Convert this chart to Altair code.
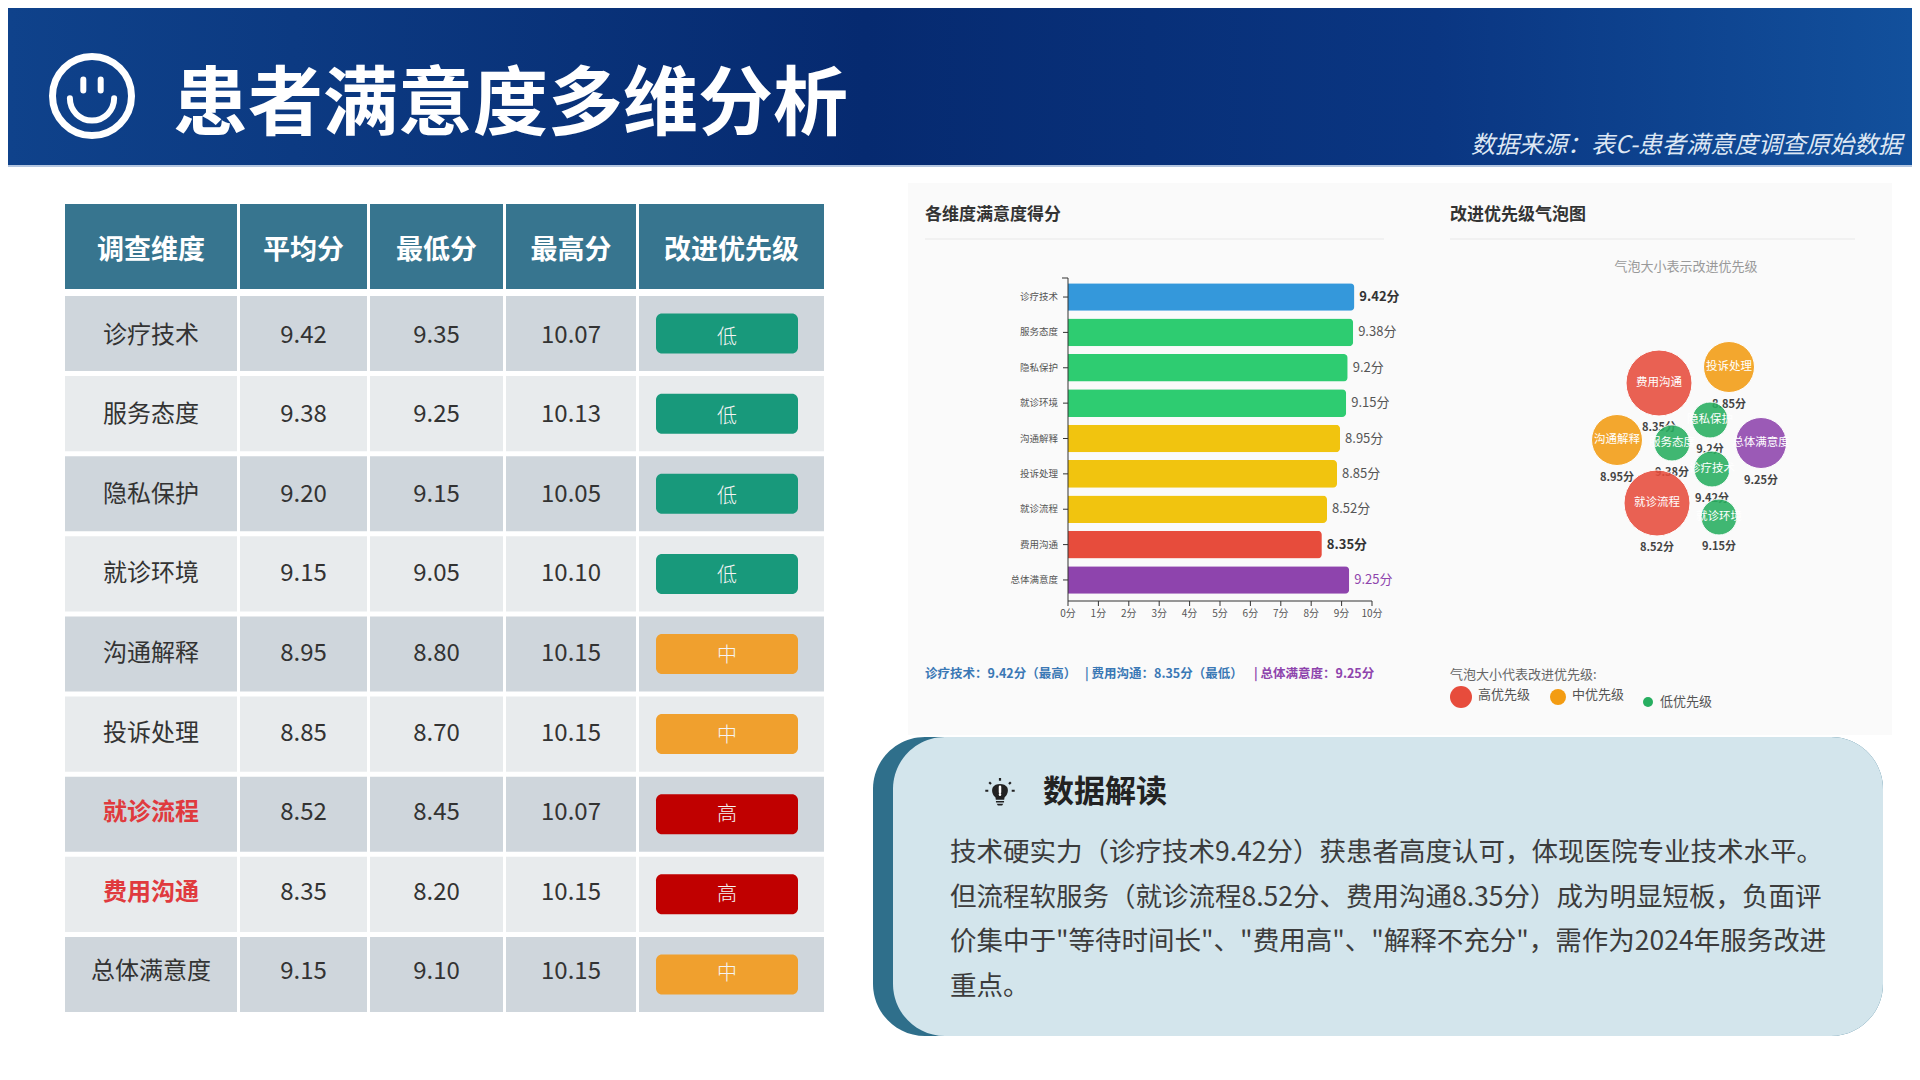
import altair as alt
import pandas as pd

# ---------------- data ----------------
dims = ["诊疗技术", "服务态度", "隐私保护", "就诊环境", "沟通解释", "投诉处理", "就诊流程", "费用沟通", "总体满意度"]
avg_score = [9.42, 9.38, 9.20, 9.15, 8.95, 8.85, 8.52, 8.35, 9.15]
min_score = [9.35, 9.25, 9.15, 9.05, 8.80, 8.70, 8.45, 8.20, 9.10]
max_score = [10.07, 10.13, 10.05, 10.10, 10.15, 10.15, 10.07, 10.15, 10.15]
priority = ["低", "低", "低", "低", "中", "中", "高", "高", "中"]
headers = ["调查维度", "平均分", "最低分", "最高分", "改进优先级"]
red_dims = ["就诊流程", "费用沟通"]

bar_score = [9.42, 9.38, 9.2, 9.15, 8.95, 8.85, 8.52, 8.35, 9.25]
bar_group = ["top", "good", "good", "good", "mid", "mid", "mid", "low", "overall"]
x_ticks = [0, 1, 2, 3, 4, 5, 6, 7, 8, 9, 10]

bubble_names = ["费用沟通", "投诉处理", "隐私保护", "沟通解释", "服务态度", "总体满意度", "诊疗技术", "就诊流程", "就诊环境"]
bubble_score = [8.35, 8.85, 9.2, 8.95, 9.38, 9.25, 9.42, 8.52, 9.15]
bubble_priority = ["高", "中", "低", "中", "低", "中", "低", "高", "低"]
bubble_kind = ["高", "中", "低", "中", "低", "总体", "低", "高", "低"]

legend_names = ["高优先级", "中优先级", "低优先级"]
legend_kind = ["高", "中", "低"]

note_lines = [
    "技术硬实力（诊疗技术9.42分）获患者高度认可，体现医院专业技术水平。",
    "但流程软服务（就诊流程8.52分、费用沟通8.35分）成为明显短板，负面评",
    "价集中于\"等待时间长\"、\"费用高\"、\"解释不充分\"，需作为2024年服务改进",
    "重点。",
]

# ---------------- layout (page pixels) ----------------
W, H, OFF = 1904, 1064, 8
FONT = "Noto Sans CJK SC"

col_x0 = [65, 240, 370, 506, 639]
col_x1 = [237, 367, 503, 636, 824]
col_mid = [(a + b) / 2 for a, b in zip(col_x0, col_x1)]

# packed bubble layout
bubble_x = [1659, 1729, 1710, 1617, 1672, 1761, 1712, 1657, 1719]
bubble_y = [383, 367, 420, 440, 443, 443, 469, 503, 517]
bubble_r = {"高": 33, "中": 25.5, "低": 18}
legend_r = {"高": 11, "中": 8, "低": 5}

legend_dot_x = [1461, 1558, 1648]
legend_dot_y = [697, 697, 702]
legend_txt_x = [1478, 1572, 1660]
legend_txt_y = [695, 695, 702]


def sx():
    return alt.Scale(domain=[OFF, OFF + W], range=[0, W])


def sy():
    return alt.Scale(domain=[OFF, OFF + H], range=[0, H])


def page(a, b):
    return [a - OFF, b - OFF]


def X(f="x"):
    return alt.X(f"{f}:Q", scale=sx(), axis=None)


def Y(f="y"):
    return alt.Y(f"{f}:Q", scale=sy(), axis=None)


def box(x0, x1, y0, y1, color, **kw):
    df = pd.DataFrame({"x": [x0], "x1": [x1], "y": [y0], "y1": [y1]})
    return alt.Chart(df).mark_rect(color=color, **kw).encode(
        x=X(), x2="x1:Q", y=Y(), y2="y1:Q")


def hline(x0, x1, y, color, w=1):
    df = pd.DataFrame({"x": [x0], "x1": [x1], "y": [y]})
    return alt.Chart(df).mark_rule(color=color, strokeWidth=w).encode(
        x=X(), x2="x1:Q", y=Y())


def texts(rows, **kw):
    df = pd.DataFrame(rows, columns=["x", "y", "t"])
    style = {"font": FONT, "baseline": "middle", "align": "left"}
    style.update(kw)
    return alt.Chart(df).mark_text(**style).encode(x=X(), y=Y(), text="t:N")


layers = []

# ---------------- header ----------------
header_grad = {
    "gradient": "linear", "x1": 0, "x2": 1, "y1": 0, "y2": 0,
    "stops": [
        {"offset": 0, "color": "#0f428b"},
        {"offset": 0.45, "color": "#062a70"},
        {"offset": 0.75, "color": "#0a3682"},
        {"offset": 1, "color": "#12509c"},
    ],
}
layers.append(box(OFF, OFF + W, OFF, 166, header_grad))
layers.append(hline(OFF, OFF + W, 166, "#b4c6e0", 2))

face = pd.DataFrame({"x": [92], "y": [96]})
layers.append(alt.Chart(face).mark_point(
    shape="circle", size=79 ** 2, filled=False, stroke="white", strokeWidth=7, opacity=1
).encode(x=X(), y=Y()))
layers.append(alt.Chart(face).mark_point(
    shape="M-0.22,-0.42L-0.22,-0.14M0.22,-0.42L0.22,-0.14M-0.56,0.06A0.56,0.56 0 0 0 0.56,0.06",
    size=79 ** 2, filled=False, stroke="white", strokeWidth=6, strokeCap="round", opacity=1
).encode(x=X(), y=Y()))

layers.append(texts([(173, 106, "患者满意度多维分析")], fontSize=75, fontWeight="bold", color="white"))
layers.append(texts([(1902, 146, "数据来源：表C-患者满意度调查原始数据")], fontSize=24,
                    fontStyle="italic", color="#dde7f4", align="right"))

# ---------------- table ----------------
head_df = pd.DataFrame({"x": col_x0, "x1": col_x1, "t": headers,
                        "xm": col_mid, "y": 204, "y1": 289, "ym": 251})
layers.append(alt.Chart(head_df).mark_rect(color="#37758f").encode(
    x=X(), x2="x1:Q", y=Y(), y2="y1:Q"))
layers.append(alt.Chart(head_df).mark_text(
    font=FONT, fontSize=27, fontWeight="bold", color="white", baseline="middle"
).encode(x=X("xm"), y=Y("ym"), text="t:N"))

row_scale = alt.Scale(domain=dims, range=page(296, 1012), paddingInner=0.0625, paddingOuter=0)

cells = []
for i, d in enumerate(dims):
    for j in range(5):
        cells.append({"dim": d, "x": col_x0[j], "x1": col_x1[j],
                      "shade": "dark" if i % 2 == 0 else "light"})
layers.append(alt.Chart(pd.DataFrame(cells)).mark_rect().encode(
    x=X(), x2="x1:Q",
    y=alt.Y("dim:N", scale=row_scale, axis=None),
    color=alt.Color("shade:N", scale=alt.Scale(domain=["dark", "light"],
                                              range=["#cfd6dc", "#e8ebed"]), legend=None)))

cell_text = []
for i, d in enumerate(dims):
    cell_text.append({"dim": d, "x": col_mid[0], "t": d, "red": d in red_dims})
    for j, v in enumerate([avg_score[i], min_score[i], max_score[i]]):
        cell_text.append({"dim": d, "x": col_mid[j + 1], "t": f"{v:.2f}", "red": False})
ct = pd.DataFrame(cell_text)
layers.append(alt.Chart(ct[~ct.red]).mark_text(
    font=FONT, fontSize=24, color="#333333", baseline="middle"
).encode(x=X(), y=alt.Y("dim:N", scale=row_scale, axis=None), text="t:N"))
layers.append(alt.Chart(ct[ct.red]).mark_text(
    font=FONT, fontSize=24, fontWeight="bold", color="#e03a3e", baseline="middle"
).encode(x=X(), y=alt.Y("dim:N", scale=row_scale, axis=None), text="t:N"))

badge_df = pd.DataFrame({"dim": dims, "p": priority, "x": 656, "x1": 798, "xm": 727})
layers.append(alt.Chart(badge_df).mark_bar(size=40, cornerRadius=6).encode(
    x=X(), x2="x1:Q",
    y=alt.Y("dim:N", scale=row_scale, axis=None),
    color=alt.Color("p:N", scale=alt.Scale(domain=["高", "中", "低"],
                                           range=["#c00000", "#f0a02e", "#18997b"]), legend=None)))
layers.append(alt.Chart(badge_df).mark_text(
    font=FONT, fontSize=20, fontWeight=300, color="#f4f4f4", baseline="middle", dy=2
).encode(x=X("xm"), y=alt.Y("dim:N", scale=row_scale, axis=None), text="p:N"))

# ---------------- chart card ----------------
layers.append(box(908, 1892, 183, 735, "#fafafa"))
layers.append(texts([(925, 215, "各维度满意度得分")], fontSize=17, fontWeight="bold", color="#333333"))
layers.append(hline(925, 1384, 239, "#e8e8e8"))
layers.append(texts([(1450, 215, "改进优先级气泡图")], fontSize=17, fontWeight="bold", color="#333333"))
layers.append(hline(1450, 1855, 239, "#e8e8e8"))

# ---------------- bar chart ----------------
bx = alt.Scale(domain=[0, 10], range=page(1068, 1372))
by = alt.Scale(domain=dims, range=page(279, 598), paddingInner=0.22, paddingOuter=0.12)
bar_df = pd.DataFrame({"dim": dims, "score": bar_score, "group": bar_group,
                       "label": [f"{v:g}分" for v in bar_score]})
layers.append(alt.Chart(bar_df).mark_bar(cornerRadiusEnd=4).encode(
    x=alt.X("score:Q", scale=bx, axis=None),
    y=alt.Y("dim:N", scale=by, axis=None),
    color=alt.Color("group:N", scale=alt.Scale(
        domain=["top", "good", "mid", "low", "overall"],
        range=["#3498db", "#2ecc71", "#f1c40f", "#e74c3c", "#8e44ad"]), legend=None)))

lab_style = [
    (["top", "low"], {"fontWeight": "bold", "color": "#333333"}),
    (["good", "mid"], {"color": "#555555"}),
    (["overall"], {"color": "#8e44ad"}),
]
for groups, st in lab_style:
    layers.append(alt.Chart(bar_df[bar_df.group.isin(groups)]).mark_text(
        font=FONT, fontSize=13, align="left", baseline="middle", dx=5, **st
    ).encode(x=alt.X("score:Q", scale=bx, axis=None),
             y=alt.Y("dim:N", scale=by, axis=None), text="label:N"))

# axes
zero_df = pd.DataFrame({"v": [0], "v2": [10]})
layers.append(alt.Chart(zero_df).mark_rule(color="#333333").encode(
    x=alt.X("v:Q", scale=bx, axis=None), y=alt.value(278 - OFF), y2=alt.value(601 - OFF)))
layers.append(alt.Chart(zero_df).mark_rule(color="#333333").encode(
    x=alt.X("v:Q", scale=bx, axis=None), x2="v2:Q", y=alt.value(601 - OFF)))
layers.append(hline(1062, 1068, 278, "#333333"))
layers.append(alt.Chart(bar_df).mark_rule(color="#333333").encode(
    x=alt.value(1063 - OFF), x2=alt.value(1068 - OFF),
    y=alt.Y("dim:N", scale=by, axis=None)))
layers.append(alt.Chart(bar_df).mark_text(
    font=FONT, fontSize=9.5, color="#555555", align="right", baseline="middle"
).encode(x=alt.value(1058 - OFF), y=alt.Y("dim:N", scale=by, axis=None), text="dim:N"))

tick_df = pd.DataFrame({"v": x_ticks})
layers.append(alt.Chart(tick_df).mark_rule(color="#333333").encode(
    x=alt.X("v:Q", scale=bx, axis=None), y=alt.value(601 - OFF), y2=alt.value(606 - OFF)))
layers.append(alt.Chart(tick_df).transform_calculate(t="datum.v + '分'").mark_text(
    font=FONT, fontSize=10, color="#555555", baseline="middle"
).encode(x=alt.X("v:Q", scale=bx, axis=None), y=alt.value(614 - OFF), text="t:N"))

layers.append(texts([(925, 674, "诊疗技术：9.42分（最高）"),
                     (1085, 674, "| 费用沟通：8.35分（最低）")],
                    fontSize=12.5, fontWeight="bold", color="#3a78b5"))
layers.append(texts([(1254, 674, "| 总体满意度：9.25分")],
                    fontSize=12.5, fontWeight="bold", color="#8e44ad"))

# ---------------- bubble chart ----------------
layers.append(texts([(1686, 267, "气泡大小表示改进优先级")], fontSize=13, color="#999999", align="center"))

bub_df = pd.DataFrame({"name": bubble_names, "score": bubble_score, "p": bubble_priority,
                       "kind": bubble_kind, "x": bubble_x, "y": bubble_y})
bub_df["sz"] = [(2 * bubble_r[p]) ** 2 for p in bubble_priority]
bub_df["ly"] = [y + bubble_r[p] + 12 for y, p in zip(bubble_y, bubble_priority)]
bub_df["label"] = [f"{v:g}分" for v in bubble_score]

layers.append(alt.Chart(bub_df).mark_text(
    font=FONT, fontSize=11, fontWeight="bold", color="#444444", baseline="middle"
).encode(x=X(), y=Y("ly"), text="label:N"))
layers.append(alt.Chart(bub_df).mark_circle(opacity=0.88, stroke="white", strokeWidth=1).encode(
    x=X(), y=Y(),
    size=alt.Size("sz:Q", scale=None, legend=None),
    color=alt.Color("kind:N", scale=alt.Scale(domain=["高", "中", "低", "总体"],
                                              range=["#e74c3c", "#f39c12", "#27ae60", "#8e44ad"]),
                    legend=None)))
layers.append(alt.Chart(bub_df).mark_text(
    font=FONT, fontSize=11.5, color="white", baseline="middle"
).encode(x=X(), y=Y(), text="name:N"))

# legend
layers.append(texts([(1450, 675, "气泡大小代表改进优先级:")], fontSize=13, color="#666666"))
leg_df = pd.DataFrame({"name": legend_names, "kind": legend_kind,
                       "x": legend_dot_x, "y": legend_dot_y,
                       "tx": legend_txt_x, "ty": legend_txt_y})
leg_df["sz"] = [(2 * legend_r[k]) ** 2 for k in legend_kind]
layers.append(alt.Chart(leg_df).mark_circle(opacity=1).encode(
    x=X(), y=Y(),
    size=alt.Size("sz:Q", scale=None, legend=None),
    color=alt.Color("kind:N", scale=alt.Scale(domain=["高", "中", "低"],
                                              range=["#e74c3c", "#f39c12", "#27ae60"]), legend=None)))
layers.append(alt.Chart(leg_df).mark_text(
    font=FONT, fontSize=13, color="#555555", align="left", baseline="middle"
).encode(x=X("tx"), y=Y("ty"), text="name:N"))

# ---------------- note box ----------------
layers.append(box(873, 1883, 737, 1036, "#2f6f8b", cornerRadius=52))
layers.append(box(893, 1883, 737, 1036, "#d3e5ec", cornerRadius=52))

bulb = pd.DataFrame({"x": [1000], "y": [793]})
layers.append(alt.Chart(bulb).mark_point(
    shape=("M-0.3,0.3C-0.52,0.12 -0.58,-0.18 -0.48,-0.38C-0.33,-0.68 0.33,-0.68 0.48,-0.38"
           "C0.58,-0.18 0.52,0.12 0.3,0.3L0.28,0.45L-0.28,0.45Z"
           "M-0.27,0.53L0.27,0.53L0.27,0.63L-0.27,0.63Z"
           "M-0.22,0.71L0.22,0.71L0.14,0.84L-0.14,0.84Z"),
    size=30 ** 2, filled=True, color="#222222", opacity=1
).encode(x=X(), y=Y()))
layers.append(alt.Chart(bulb).mark_point(
    shape=("M0,-1L0,-0.82M-0.72,-0.72L-0.6,-0.6M0.72,-0.72L0.6,-0.6"
           "M-0.98,-0.15L-0.78,-0.15M0.98,-0.15L0.78,-0.15"),
    size=30 ** 2, filled=False, stroke="#222222", strokeWidth=2.2, opacity=1
).encode(x=X(), y=Y()))
layers.append(alt.Chart(bulb).mark_point(
    shape="M0,-0.42L0,-0.05M0,0.08L0,0.12",
    size=30 ** 2, filled=False, stroke="white", strokeWidth=2.5, strokeCap="round", opacity=1
).encode(x=X(), y=Y()))

layers.append(texts([(1043, 793, "数据解读")], fontSize=31, fontWeight="bold", color="#222222"))

note_y = [853, 898, 942, 987]
layers.append(texts([(950, y, t) for y, t in zip(note_y, note_lines)],
                    fontSize=26.5, color="#3c3c3c"))

chart = alt.layer(*layers).resolve_scale(
    x="independent", y="independent", color="independent", size="independent"
).properties(
    width=W, height=H, padding=0,
    autosize=alt.AutoSizeParams(type="none"),
    background="white",
).configure_view(stroke=None)

chart.save("out.html", embed_options={"renderer": "svg", "actions": False})
